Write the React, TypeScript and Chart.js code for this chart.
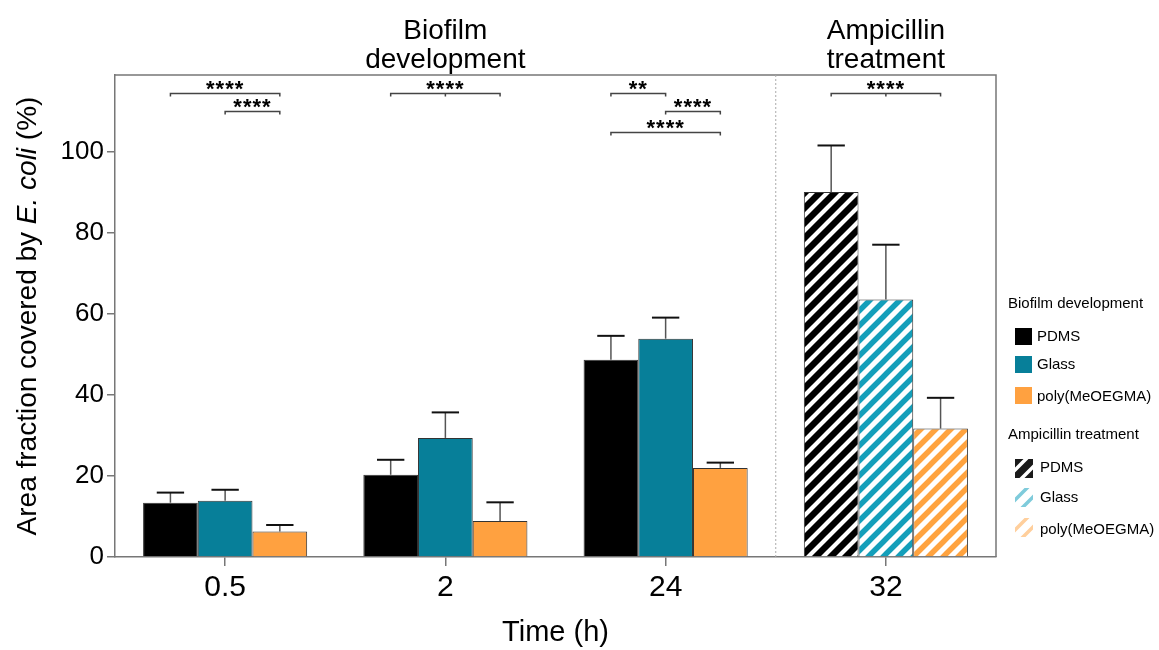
import React, { useEffect, useRef } from 'react';
import { Chart, registerables } from 'chart.js';
Chart.register(...registerables);

const FONT = '"Liberation Sans", Arial, Helvetica, sans-serif';

const categories = ['0.5', '2', '24', '32'];
const seriesNames = ['PDMS', 'Glass', 'poly(MeOEGMA)'];
const pdmsMean = [13.4, 20.3, 48.7, 90.1];
const pdmsSD = [2.5, 3.7, 5.9, 11.5];
const glassMean = [13.9, 29.4, 53.9, 63.6];
const glassSD = [2.7, 6.3, 5.2, 13.5];
const polyMean = [6.3, 8.9, 22.0, 31.7];
const polySD = [1.6, 4.6, 1.3, 7.6];
const yTickValues = [0, 20, 40, 60, 80, 100];
const groupTitles = [
  { category: 1, lines: ['Biofilm', 'development'] },
  { category: 3, lines: ['Ampicillin', 'treatment'] },
];
// significance brackets: category index, from series, to series, height (value), label, centre tick
const sigGroup = [0, 0, 1, 2, 2, 2, 3];
const sigFrom = [0, 1, 0, 0, 1, 0, 0];
const sigTo = [2, 2, 2, 1, 2, 2, 2];
const sigLevel = [114.5, 110.1, 114.5, 114.5, 110.1, 104.9, 114.5];
const sigLabel = ['****', '****', '****', '**', '****', '****', '****'];
const sigCenterTick = [false, false, true, false, false, false, true];

const solidColors = ['#000000', '#077f99', '#ffa140'];
const hatchColors = ['#000000', '#149fba', '#ffa33f'];

function makeHatch(bg: string, fg: string, lw: number) {
  const s = 15;
  const c = document.createElement('canvas');
  c.width = s;
  c.height = s;
  const g = c.getContext('2d')!;
  g.fillStyle = bg;
  g.fillRect(0, 0, s, s);
  g.strokeStyle = fg;
  g.lineWidth = lw;
  g.beginPath();
  for (let k = -1; k <= 1; k++) {
    g.moveTo(k * s - s, 2 * s);
    g.lineTo(k * s + 2 * s, -s);
  }
  g.stroke();
  return g.createPattern(c, 'repeat')!;
}

export default function App() {
  const ref = useRef<HTMLCanvasElement>(null);
  useEffect(() => {
    const canvas = ref.current!;
    const patterns = [
      makeHatch('#000000', '#ffffff', 4.2),
      makeHatch('#ffffff', hatchColors[1], 5.5),
      makeHatch('#ffffff', hatchColors[2], 5.5),
    ];
    const legendPatterns = [
      makeHatch('#1a1a1a', '#ffffff', 3.5),
      makeHatch('#ffffff', '#7fcbdb', 3.5),
      makeHatch('#ffffff', '#ffcf9c', 3.5),
    ];
    const means = [pdmsMean, glassMean, polyMean];
    const sds = [pdmsSD, glassSD, polySD];

    const overlay = {
      id: 'overlay',
      afterDatasetsDraw(chart: any) {
        const ctx = chart.ctx as CanvasRenderingContext2D;
        const ys = chart.scales.y;
        const xs = chart.scales.x;
        const area = chart.chartArea;
        ctx.save();
        // error bars
        for (let d = 0; d < 3; d++) {
          const meta = chart.getDatasetMeta(d);
          meta.data.forEach((bar: any, j: number) => {
            const top = ys.getPixelForValue(means[d][j] + sds[d][j]);
            ctx.strokeStyle = '#555';
            ctx.lineWidth = 1.5;
            ctx.beginPath();
            ctx.moveTo(bar.x, bar.y);
            ctx.lineTo(bar.x, top);
            ctx.stroke();
            ctx.strokeStyle = '#111';
            ctx.lineWidth = 2;
            const hw = bar.width / 4;
            ctx.beginPath();
            ctx.moveTo(bar.x - hw, top);
            ctx.lineTo(bar.x + hw, top);
            ctx.stroke();
          });
        }
        // frame top/right
        ctx.strokeStyle = '#777';
        ctx.lineWidth = 1.5;
        ctx.beginPath();
        ctx.moveTo(area.left, area.top);
        ctx.lineTo(area.right, area.top);
        ctx.lineTo(area.right, area.bottom);
        ctx.stroke();
        // dotted separator
        const sepX = (xs.getPixelForValue(2) + xs.getPixelForValue(3)) / 2;
        ctx.strokeStyle = '#aaa';
        ctx.lineWidth = 1;
        ctx.setLineDash([2, 2]);
        ctx.beginPath();
        ctx.moveTo(sepX, area.top);
        ctx.lineTo(sepX, area.bottom);
        ctx.stroke();
        ctx.setLineDash([]);
        // significance brackets
        for (let i = 0; i < sigGroup.length; i++) {
          const g = sigGroup[i];
          const x1 = chart.getDatasetMeta(sigFrom[i]).data[g].x;
          const x2 = chart.getDatasetMeta(sigTo[i]).data[g].x;
          const y = Math.round(ys.getPixelForValue(sigLevel[i])) + 0.5;
          ctx.strokeStyle = '#444';
          ctx.lineWidth = 1.5;
          ctx.beginPath();
          ctx.moveTo(x1, y + 3);
          ctx.lineTo(x1, y);
          ctx.lineTo(x2, y);
          ctx.lineTo(x2, y + 3);
          if (sigCenterTick[i]) {
            ctx.moveTo((x1 + x2) / 2, y);
            ctx.lineTo((x1 + x2) / 2, y + 3);
          }
          ctx.stroke();
          ctx.fillStyle = '#000';
          ctx.font = `bold 22px ${FONT}`;
          ctx.textAlign = 'center';
          ctx.textBaseline = 'alphabetic';
          (ctx as any).letterSpacing = '1px';
          ctx.fillText(sigLabel[i], (x1 + x2) / 2, y + 2);
          (ctx as any).letterSpacing = '0px';
        }
        // group titles
        ctx.fillStyle = '#000';
        ctx.font = `28px ${FONT}`;
        ctx.textAlign = 'center';
        ctx.textBaseline = 'alphabetic';
        groupTitles.forEach((t) => {
          const cx = xs.getPixelForValue(t.category);
          ctx.fillText(t.lines[0], cx, 39);
          ctx.fillText(t.lines[1], cx, 68);
        });
        // y-axis title with italic species name
        const parts = [
          { t: 'Area fraction covered by ', f: `28px ${FONT}` },
          { t: 'E. coli', f: `italic 28px ${FONT}` },
          { t: ' (%)', f: `28px ${FONT}` },
        ];
        let total = 0;
        parts.forEach((p) => {
          ctx.font = p.f;
          total += ctx.measureText(p.t).width;
        });
        ctx.save();
        ctx.translate(28, (area.top + area.bottom) / 2);
        ctx.rotate(-Math.PI / 2);
        ctx.textAlign = 'left';
        ctx.textBaseline = 'middle';
        let px = -total / 2;
        parts.forEach((p) => {
          ctx.font = p.f;
          ctx.fillText(p.t, px, 0);
          px += ctx.measureText(p.t).width;
        });
        ctx.restore();
        // custom legend
        ctx.font = `15px ${FONT}`;
        ctx.textAlign = 'left';
        ctx.textBaseline = 'middle';
        ctx.fillStyle = '#000';
        ctx.fillText('Biofilm development', 1008, 304);
        const solidY = [328, 356, 387];
        const textY1 = [337, 365, 397];
        for (let d = 0; d < 3; d++) {
          ctx.fillStyle = solidColors[d];
          ctx.fillRect(1015, solidY[d], 17, 17);
          ctx.fillStyle = '#000';
          ctx.fillText(seriesNames[d], 1037, textY1[d]);
        }
        ctx.fillText('Ampicillin treatment', 1008, 435);
        const hatchY = [459, 488, 518];
        const textY2 = [468, 498, 530];
        for (let d = 0; d < 3; d++) {
          ctx.fillStyle = legendPatterns[d];
          ctx.fillRect(1015, hatchY[d], 18, 19);
          ctx.fillStyle = '#000';
          ctx.fillText(seriesNames[d], 1040, textY2[d]);
        }
        ctx.restore();
      },
    };

    const datasets = [0, 1, 2].map((d) => ({
      label: seriesNames[d],
      data: means[d],
      backgroundColor: [solidColors[d], solidColors[d], solidColors[d], patterns[d]],
      borderColor: '#333',
      borderWidth: 1,
      categoryPercentage: 0.745,
      barPercentage: 1,
    }));

    const chart = new Chart(canvas, {
      type: 'bar',
      data: { labels: categories, datasets },
      options: {
        animation: false,
        responsive: false,
        maintainAspectRatio: false,
        layout: { padding: { left: 0, right: 163, top: 75, bottom: 0 } },
        plugins: { legend: { display: false }, tooltip: { enabled: false } },
        scales: {
          x: {
            type: 'category',
            offset: true,
            grid: {
              display: true,
              drawOnChartArea: false,
              drawTicks: true,
              tickLength: 9,
              offset: false,
              color: '#777',
              lineWidth: 1.5,
            },
            border: { display: true, color: '#777', width: 1.5 },
            ticks: { font: { family: FONT, size: 30 }, color: '#000', padding: 4 },
            title: {
              display: true,
              text: 'Time (h)',
              font: { family: FONT, size: 29 },
              color: '#000',
              padding: { top: 0, bottom: 0 },
            },
            afterFit: (s: any) => {
              s.height = 93;
            },
          },
          y: {
            min: 0,
            max: 119,
            grid: {
              display: true,
              drawOnChartArea: false,
              drawTicks: true,
              tickLength: 8,
              color: '#777',
              lineWidth: 1.5,
            },
            border: { display: true, color: '#777', width: 1.5 },
            ticks: { stepSize: 20, font: { family: FONT, size: 26 }, color: '#000', padding: 3 },
            afterBuildTicks: (s: any) => {
              s.ticks = yTickValues.map((v) => ({ value: v }));
            },
            afterFit: (s: any) => {
              s.width = 115;
            },
          },
        },
      },
      plugins: [overlay],
    });
    return () => chart.destroy();
  }, []);
  return (
    <div style={{ position: 'absolute', left: 0, top: 0, width: 1159, height: 650, background: '#fff' }}>
      <canvas ref={ref} width={1159} height={650} />
    </div>
  );
}
